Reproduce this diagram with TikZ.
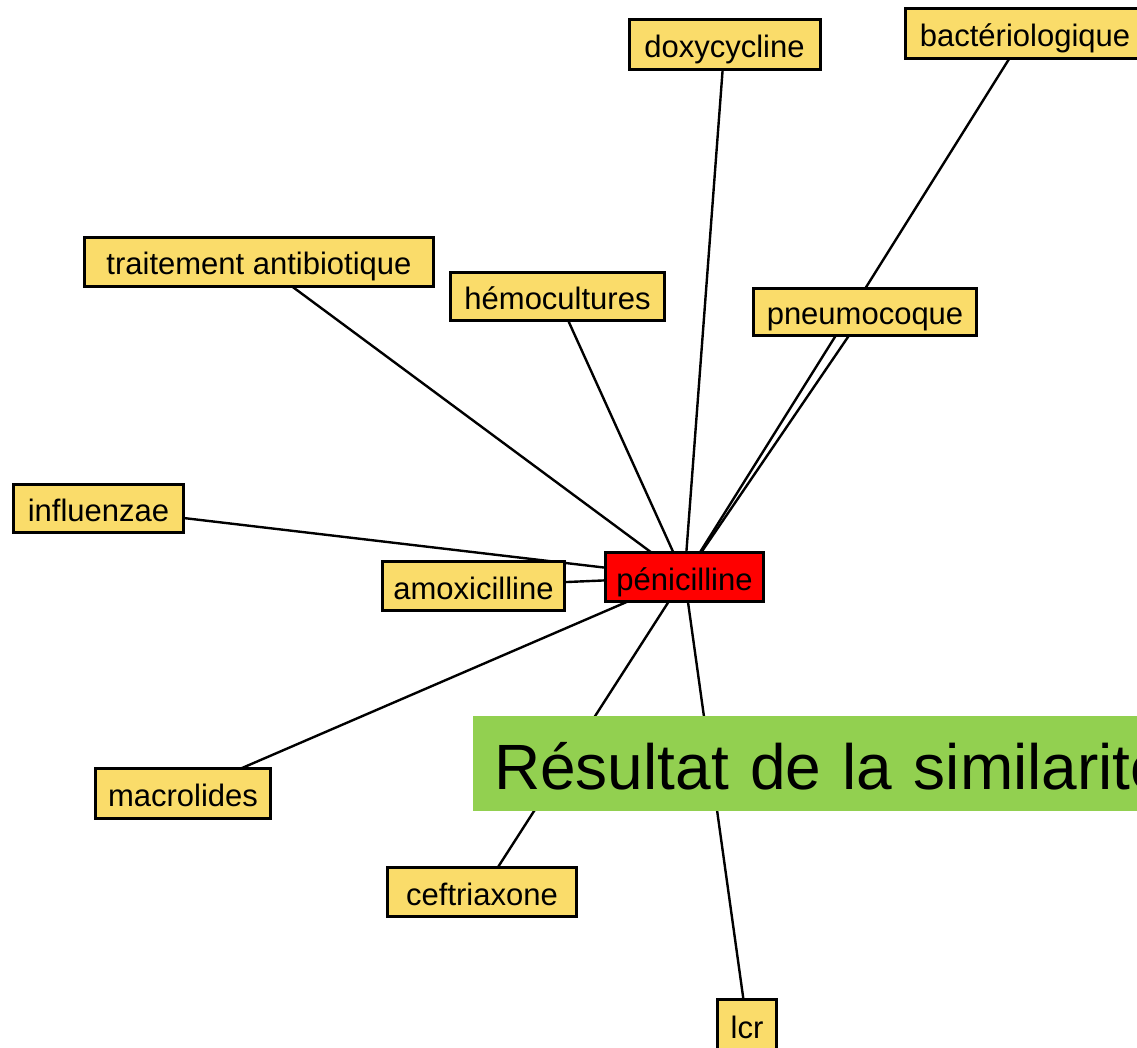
\documentclass[tikz,border=0pt]{standalone}
\usepackage{fontspec}
\setmainfont{Liberation Sans}
\definecolor{boxyellow}{RGB}{250,220,106}
\definecolor{resgreen}{RGB}{146,208,80}
\definecolor{penred}{RGB}{255,0,0}
\pgfdeclarelayer{bg}
\pgfsetlayers{bg,main}
\begin{document}
\begin{tikzpicture}[x=1pt,y=-1pt,
  term/.style={draw=black, line width=3pt, fill=boxyellow, inner sep=0pt,
    font=\fontsize{31}{31}\selectfont, text height=26pt, text depth=0pt},
  hub/.style={term, fill=penred},
  link/.style={line width=2.4pt, draw=black},
  banner/.style={fill=resgreen, draw=none, inner xsep=21pt, inner ysep=0pt,
    font=\fontsize{64}{64}\selectfont, text height=52pt, text depth=0pt,
    minimum height=95pt, text width=700pt, align=left, anchor=west}]
\useasboundingbox (0,0) rectangle (1137,1048);
\clip (0,0) rectangle (1137,1048);
\node[hub, minimum width=158pt, minimum height=49pt] (pen) at (684.5,577) {pénicilline};
\node[term, minimum width=191pt, minimum height=50pt] (doxy) at (724.5,45) {doxycycline};
\node[term, minimum width=240pt, minimum height=50pt] (bact) at (1025,33.5) {bactériologique};
\node[term, minimum width=349pt, minimum height=49pt] (trait) at (259,262) {traitement antibiotique};
\node[term, minimum width=214pt, minimum height=48pt] (hemo) at (557.5,297) {hémocultures};
\node[term, minimum width=223pt, minimum height=47pt] (pneu) at (865,312) {pneumocoque};
\node[term, minimum width=170pt, minimum height=48pt] (infl) at (98.5,508) {influenzae};
\node[term, minimum width=182pt, minimum height=49pt] (amox) at (473.5,586) {amoxicilline};
\node[term, minimum width=175pt, minimum height=50pt] (macro) at (183,793.5) {macrolides};
\node[term, minimum width=189pt, minimum height=49pt] (ceft) at (482,892) {ceftriaxone};
\node[term, minimum width=59pt, minimum height=52pt] (lcr) at (747,1025) {lcr};
\node[banner] (res) at (473,763.5) {Résultat de la similarité};
\begin{pgfonlayer}{bg}
\draw[link] (doxy.center) -- (pen.center);
\draw[link] (bact.center) -- (pen.center);
\draw[link] (trait.center) -- (pen.center);
\draw[link] (hemo.center) -- (pen.center);
\draw[link] (pneu.center) -- (pen.center);
\draw[link] (infl.center) -- (pen.center);
\draw[link] (amox.center) -- (pen.center);
\draw[link] (macro.center) -- (pen.center);
\draw[link] (ceft.center) -- (pen.center);
\draw[link] (lcr.center) -- (pen.center);
\end{pgfonlayer}
\end{tikzpicture}
\end{document}
